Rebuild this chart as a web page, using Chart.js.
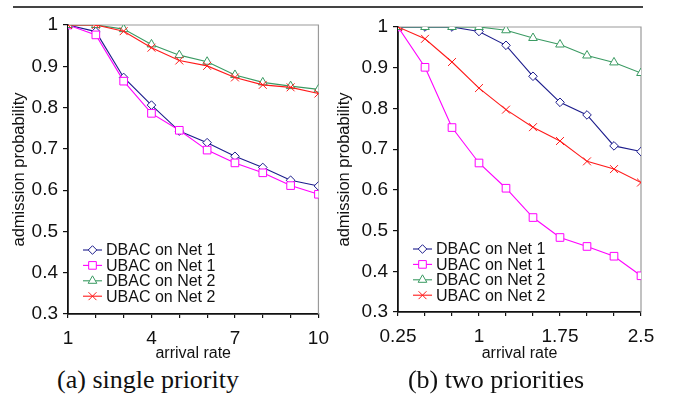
<!DOCTYPE html>
<html>
<head>
<meta charset="utf-8">
<script src="https://cdn.jsdelivr.net/npm/chart.js@4/dist/chart.umd.min.js"></script>
<style>
    body { margin: 0; background: #fff; }
    #wrap { position: relative; width: 677px; height: 398px; overflow: hidden; }
    #rule { position: absolute; left: 13px; top: 6px; width: 630px; height: 2px; background: #444; }
    .box { position: absolute; top: 0; height: 363px; }
    .caption { position: absolute; top: 365px; font-family: "Liberation Serif", serif; font-size: 26px; color: #111; transform: translateX(-50%); white-space: nowrap; }
</style>
</head>
<body>
<div id="wrap">
    <div id="rule"></div>
    <div class="box" style="left:0; width:338px;"><canvas id="chartA"></canvas></div>
    <div class="box" style="left:330px; width:347px;"><canvas id="chartB"></canvas></div>
    <div class="caption" style="left:148px;">(a) single priority</div>
    <div class="caption" style="left:496px;">(b) two priorities</div>
</div>
<script>
const seriesNames = ['DBAC on Net 1', 'UBAC on Net 1', 'DBAC on Net 2', 'UBAC on Net 2'];

// (a) single priority
const rateA = [1, 2, 3, 4, 5, 6, 7, 8, 9, 10];
const dbacNet1A = [1, 0.984, 0.873, 0.806, 0.743, 0.715, 0.682, 0.655, 0.624, 0.610];
const ubacNet1A = [1, 0.976, 0.864, 0.786, 0.745, 0.697, 0.666, 0.642, 0.611, 0.590];
const dbacNet2A = [1, 1, 0.990, 0.953, 0.927, 0.911, 0.879, 0.861, 0.852, 0.844];
const ubacNet2A = [1, 1, 0.985, 0.945, 0.914, 0.901, 0.873, 0.855, 0.849, 0.834];
const labelledRatesA = [1, 4, 7, 10];

// (b) two priorities
const rateB = [0.25, 0.5, 0.75, 1, 1.25, 1.5, 1.75, 2, 2.25, 2.5];
const dbacNet1B = [1, 1, 1, 0.989, 0.955, 0.879, 0.815, 0.784, 0.708, 0.694];
const ubacNet1B = [1, 0.901, 0.753, 0.666, 0.604, 0.532, 0.483, 0.461, 0.437, 0.389];
const dbacNet2B = [1, 1, 1, 1, 0.992, 0.973, 0.957, 0.930, 0.913, 0.887];
const ubacNet2B = [1, 0.971, 0.914, 0.850, 0.797, 0.754, 0.720, 0.670, 0.651, 0.618];
const labelledRatesB = [0.25, 1, 1.75, 2.5];

const styles = [
    { color: '#1c1c8c', pointStyle: 'rectRot', radius: 4.3 },
    { color: '#ff00ff', pointStyle: 'rect', radius: 5.4 },
    { color: '#3a9a62', pointStyle: 'triangle', radius: 5 },
    { color: '#ff1a1a', pointStyle: 'crossRot', radius: 5.6 }
];

const SANS = '"Liberation Sans", Arial, sans-serif';

function makeDatasets(xs, seriesList) {
    return seriesList.map((ys, i) => ({
        label: seriesNames[i],
        data: xs.map((x, j) => ({ x: x, y: ys[j] })),
        borderColor: styles[i].color,
        backgroundColor: '#fff',
        pointBorderColor: styles[i].color,
        pointBackgroundColor: '#fff',
        pointStyle: styles[i].pointStyle,
        pointRadius: styles[i].radius,
        pointBorderWidth: 1,
        borderWidth: 1.1,
        tension: 0,
        fill: false
    })).reverse();
}

// gray frame on top and right of the plot
const framePlugin = {
    id: 'frame',
    beforeDatasetsDraw(chart) {
        const { ctx, chartArea: a } = chart;
        ctx.save();
        ctx.strokeStyle = '#9a9a9a';
        ctx.lineWidth = 1.2;
        ctx.beginPath();
        ctx.moveTo(a.left, a.top);
        ctx.lineTo(a.right, a.top);
        ctx.lineTo(a.right, a.bottom);
        ctx.stroke();
        ctx.restore();
    }
};

// legend drawn inside the plot area
const insideLegend = {
    id: 'insideLegend',
    afterDraw(chart, args, opts) {
        const ctx = chart.ctx;
        const a = chart.chartArea;
        ctx.save();
        ctx.font = '16px ' + SANS;
        ctx.textBaseline = 'middle';
        seriesNames.forEach((name, i) => {
            const st = styles[i];
            const y = a.top + opts.top + i * 15.4;
            const x0 = a.left + opts.left;
            ctx.strokeStyle = st.color;
            ctx.lineWidth = 1.1;
            ctx.beginPath();
            ctx.moveTo(x0, y);
            ctx.lineTo(x0 + 19, y);
            ctx.stroke();
            ctx.fillStyle = '#fff';
            ctx.lineWidth = 1;
            if (Chart.helpers && Chart.helpers.drawPoint) {
                Chart.helpers.drawPoint(ctx, { pointStyle: st.pointStyle, radius: st.radius, borderWidth: 1, rotation: 0 }, x0 + 9.5, y);
            }
            ctx.fillStyle = '#111';
            ctx.fillText(name, x0 + 23, y + 1);
        });
        ctx.restore();
    }
};

function makeChart(id, xs, seriesList, xMin, xMax, xStep, labelled, pad) {
    new Chart(document.getElementById(id), {
        type: 'line',
        data: { datasets: makeDatasets(xs, seriesList) },
        plugins: [framePlugin, insideLegend],
        options: {
            responsive: true,
            maintainAspectRatio: false,
            animation: false,
            layout: { padding: { left: 0, right: pad.right, top: pad.top, bottom: 0 } },
            plugins: {
                legend: { display: false },
                tooltip: { enabled: false },
                insideLegend: { left: 15, top: pad.legendTop }
            },
            scales: {
                x: {
                    type: 'linear',
                    min: xMin,
                    max: xMax,
                    afterFit(scale) { scale.height = pad.axisH; },
                    ticks: {
                        stepSize: xStep,
                        autoSkip: false,
                        maxRotation: 0,
                        padding: 9,
                        color: '#111',
                        font: { family: SANS, size: 19 },
                        callback: v => labelled.some(l => Math.abs(l - v) < 1e-9) ? String(v) : ''
                    },
                    grid: { drawOnChartArea: false, tickLength: 4, color: '#111', lineWidth: 1.2 },
                    border: { color: '#111', width: 1.8 },
                    title: {
                        display: true,
                        text: 'arrival rate',
                        color: '#111',
                        font: { family: SANS, size: 16 },
                        padding: { top: 0, bottom: 0 }
                    }
                },
                y: {
                    min: 0.3,
                    max: 1,
                    afterFit(scale) { scale.width = 68; },
                    ticks: {
                        stepSize: 0.1,
                        padding: 5,
                        color: '#111',
                        font: { family: SANS, size: 19 },
                        callback: v => String(Number(v.toFixed(1)))
                    },
                    grid: { drawOnChartArea: false, tickLength: 5, color: '#111', lineWidth: 1.2 },
                    border: { color: '#111', width: 1.8 },
                    title: {
                        display: true,
                        text: 'admission probability',
                        color: '#111',
                        font: { family: SANS, size: 16.5 },
                        padding: { top: pad.title, bottom: 0 }
                    }
                }
            }
        }
    });
}

makeChart('chartA', rateA, [dbacNet1A, ubacNet1A, dbacNet2A, ubacNet2A], 1, 10, 1, labelledRatesA,
    { right: 19, top: 25, axisH: 49, title: 10, legendTop: 225 });
makeChart('chartB', rateB, [dbacNet1B, ubacNet1B, dbacNet2B, ubacNet2B], 0.25, 2.5, 0.25, labelledRatesB,
    { right: 36, top: 27, axisH: 51, title: 5, legendTop: 222 });
</script>
</body>
</html>
